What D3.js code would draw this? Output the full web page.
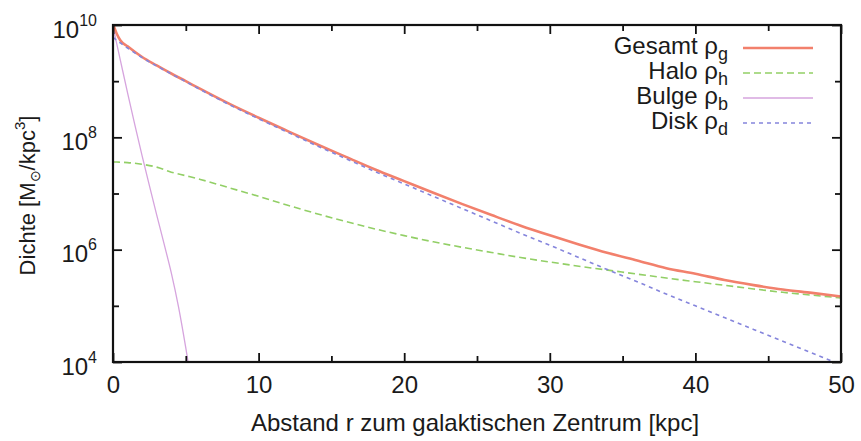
<!DOCTYPE html>
<html>
<head>
<meta charset="utf-8">
<script src="https://cdn.jsdelivr.net/npm/d3@7"></script>
<style>
  html, body { margin: 0; padding: 0; background: #fff; }
  svg { display: block; font-family: "Liberation Sans", Arial, Helvetica, sans-serif; }
</style>
</head>
<body>
<svg id="chart" width="861" height="441"></svg>
<script>
// Radial density profile of the galaxy: total and its components (M_sun/kpc^3)
const radius = [0, 0.25, 0.5, 1, 2, 3, 4, 5, 6, 8, 10, 12, 14, 16, 18, 20, 22, 24, 26, 28, 30, 32, 34, 36, 38, 40, 42, 44, 46, 48, 50];

const totalDensity = [1.05e10, 7.08e9, 5.37e9, 4.17e9, 2.69e9, 1.91e9, 1.37e9, 1.00e9, 7.26e8, 3.93e8, 2.23e8, 1.29e8, 7.52e7, 4.49e7, 2.68e7, 1.66e7, 1.03e7, 6.47e6, 4.13e6, 2.67e6, 1.80e6, 1.24e6, 8.74e5, 6.41e5, 4.68e5, 3.72e5, 2.88e5, 2.34e5, 1.95e5, 1.70e5, 1.47e5];

const haloDensity = [3.63e7, 3.63e7, 3.60e7, 3.55e7, 3.31e7, 2.95e7, 2.40e7, 2.07e7, 1.78e7, 1.26e7, 8.91e6, 6.17e6, 4.37e6, 3.16e6, 2.34e6, 1.78e6, 1.38e6, 1.10e6, 8.91e5, 7.24e5, 6.03e5, 5.07e5, 4.32e5, 3.67e5, 3.13e5, 2.69e5, 2.32e5, 2.00e5, 1.74e5, 1.55e5, 1.38e5];

const diskDensity = [6.03e9, 5.37e9, 4.79e9, 3.89e9, 2.63e9, 1.86e9, 1.35e9, 9.77e8, 7.08e8, 3.80e8, 2.14e8, 1.23e8, 7.08e7, 4.17e7, 2.45e7, 1.48e7, 8.91e6, 5.37e6, 3.24e6, 1.95e6, 1.20e6, 7.24e5, 4.37e5, 2.69e5, 1.62e5, 1.00e5, 6.17e4, 3.80e4, 2.34e4, 1.45e4, 8.91e3];

const bulgeRadius = [0, 0.5, 1, 1.5, 2, 2.5, 3, 3.5, 4, 4.5, 5, 5.5];
const bulgeDensity = [9.33e9, 2.40e9, 6.17e8, 1.66e8, 4.68e7, 1.38e7, 4.17e6, 1.29e6, 3.89e5, 9.55e4, 1.78e4, 2.82e3];

const xMajorTicks = [0, 10, 20, 30, 40, 50];
const xMinorTicks = [5, 15, 25, 35, 45];
const yMajorExponents = [4, 6, 8, 10];
const yMinorExponents = [5, 7, 9];

const seriesNames = ["Gesamt", "Halo", "Bulge", "Disk"];
const seriesSubscripts = ["g", "h", "b", "d"];

const margin = { left: 113, right: 20, top: 25, bottom: 79 };
const W = 861, H = 441;
const textColor = "#1a1a1a";
const svg = d3.select("#chart");

const x = d3.scaleLinear().domain([0, 50]).range([margin.left, W - margin.right]);
const y = d3.scaleLog().domain([1e4, 1e10]).range([H - margin.bottom, margin.top]);

const series = [
  { name: seriesNames[0], sub: seriesSubscripts[0], r: radius, v: totalDensity, color: "#f2806c", width: 2.6, dash: null },
  { name: seriesNames[1], sub: seriesSubscripts[1], r: radius, v: haloDensity, color: "#92cf66", width: 1.6, dash: "7,4" },
  { name: seriesNames[2], sub: seriesSubscripts[2], r: bulgeRadius, v: bulgeDensity, color: "#d6a4de", width: 1.3, dash: null },
  { name: seriesNames[3], sub: seriesSubscripts[3], r: radius, v: diskDensity, color: "#8585dc", width: 1.6, dash: "4,4" }
];

// clip curves to the plotting frame
svg.append("clipPath").attr("id", "plotClip")
  .append("rect")
  .attr("x", margin.left).attr("y", margin.top)
  .attr("width", x(50) - margin.left).attr("height", y(1e4) - margin.top);

const line = d3.line()
  .x(d => x(d[0]))
  .y(d => y(d[1]))
  .curve(d3.curveMonotoneX);

const curves = svg.append("g").attr("clip-path", "url(#plotClip)");
// draw order: bulge, halo, total, disk dashes on top
[2, 1, 0, 3].forEach(i => {
  const s = series[i];
  curves.append("path")
    .datum(s.r.map((r, k) => [r, s.v[k]]))
    .attr("d", line)
    .attr("fill", "none")
    .attr("stroke", s.color)
    .attr("stroke-width", s.width)
    .attr("stroke-dasharray", s.dash);
});

// axes: ticks pointing inward on all four sides
const tickColor = "#111";
function styleAxis(g) {
  g.select(".domain").remove();
  g.selectAll(".tick line").attr("stroke", tickColor).attr("stroke-width", 1.8);
}

svg.append("g")
  .attr("transform", `translate(0,${y(1e4)})`)
  .call(d3.axisBottom(x).tickValues(xMajorTicks).tickSize(-9).tickPadding(14).tickFormat(d3.format("d")))
  .call(styleAxis)
  .call(g => g.selectAll(".tick text").attr("font-size", 24).attr("fill", textColor).attr("dy", "0.71em"));

svg.append("g")
  .attr("transform", `translate(0,${y(1e4)})`)
  .call(d3.axisBottom(x).tickValues(xMinorTicks).tickSize(-6).tickFormat(""))
  .call(styleAxis);

svg.append("g")
  .attr("transform", `translate(0,${y(1e10)})`)
  .call(d3.axisTop(x).tickValues(xMajorTicks).tickSize(-9).tickFormat(""))
  .call(styleAxis);

svg.append("g")
  .attr("transform", `translate(0,${y(1e10)})`)
  .call(d3.axisTop(x).tickValues(xMinorTicks).tickSize(-6).tickFormat(""))
  .call(styleAxis);

const yMajor = yMajorExponents.map(e => Math.pow(10, e));
const yMinor = yMinorExponents.map(e => Math.pow(10, e));

svg.append("g")
  .attr("transform", `translate(${x(0)},0)`)
  .call(d3.axisLeft(y).tickValues(yMajor).tickSize(-9).tickFormat(""))
  .call(styleAxis)
  .call(g => g.selectAll(".tick").each(function (d) {
    const t = d3.select(this).append("text")
      .attr("x", -16).attr("y", 12)
      .attr("text-anchor", "end")
      .attr("fill", textColor)
      .attr("font-size", 24);
    t.append("tspan").text("10");
    t.append("tspan").attr("font-size", 16).attr("dy", -12).text(Math.round(Math.log10(d)));
  }));

svg.append("g")
  .attr("transform", `translate(${x(0)},0)`)
  .call(d3.axisLeft(y).tickValues(yMinor).tickSize(-6).tickFormat(""))
  .call(styleAxis);

svg.append("g")
  .attr("transform", `translate(${x(50)},0)`)
  .call(d3.axisRight(y).tickValues(yMajor).tickSize(-9).tickFormat(""))
  .call(styleAxis);

svg.append("g")
  .attr("transform", `translate(${x(50)},0)`)
  .call(d3.axisRight(y).tickValues(yMinor).tickSize(-6).tickFormat(""))
  .call(styleAxis);

// plot frame
svg.append("rect")
  .attr("x", x(0)).attr("y", y(1e10))
  .attr("width", x(50) - x(0)).attr("height", y(1e4) - y(1e10))
  .attr("fill", "none").attr("stroke", "#111").attr("stroke-width", 2.2);

// axis titles
svg.append("text")
  .attr("x", (x(0) + x(50)) / 2 - 2).attr("y", 431)
  .attr("text-anchor", "middle")
  .attr("font-size", 24).attr("fill", textColor)
  .text("Abstand r zum galaktischen Zentrum [kpc]");

const yTitle = svg.append("text")
  .attr("transform", `translate(35,${(y(1e10) + y(1e4)) / 2 + 2}) rotate(-90)`)
  .attr("text-anchor", "middle")
  .attr("font-size", 22).attr("fill", textColor);
yTitle.append("tspan").text("Dichte [M");
yTitle.append("tspan").attr("font-size", 14).attr("dy", 5).text("\u2299");
yTitle.append("tspan").attr("dy", -5).text("/kpc");
yTitle.append("tspan").attr("font-size", 15).attr("dy", -10).text("3");
yTitle.append("tspan").attr("dy", 10).text("]");

// legend
const legend = svg.append("g");
series.forEach((s, i) => {
  const baseY = 54 + i * 25;
  const t = legend.append("text")
    .attr("x", 728).attr("y", baseY)
    .attr("text-anchor", "end")
    .attr("font-size", 24).attr("fill", textColor);
  t.append("tspan").text(s.name + " \u03c1");
  t.append("tspan").attr("font-size", 18).attr("dy", 6).text(s.sub);
  legend.append("line")
    .attr("x1", 743).attr("x2", 813)
    .attr("y1", baseY - 6).attr("y2", baseY - 6)
    .attr("stroke", s.color)
    .attr("stroke-width", s.width)
    .attr("stroke-dasharray", s.dash);
});
</script>
</body>
</html>
